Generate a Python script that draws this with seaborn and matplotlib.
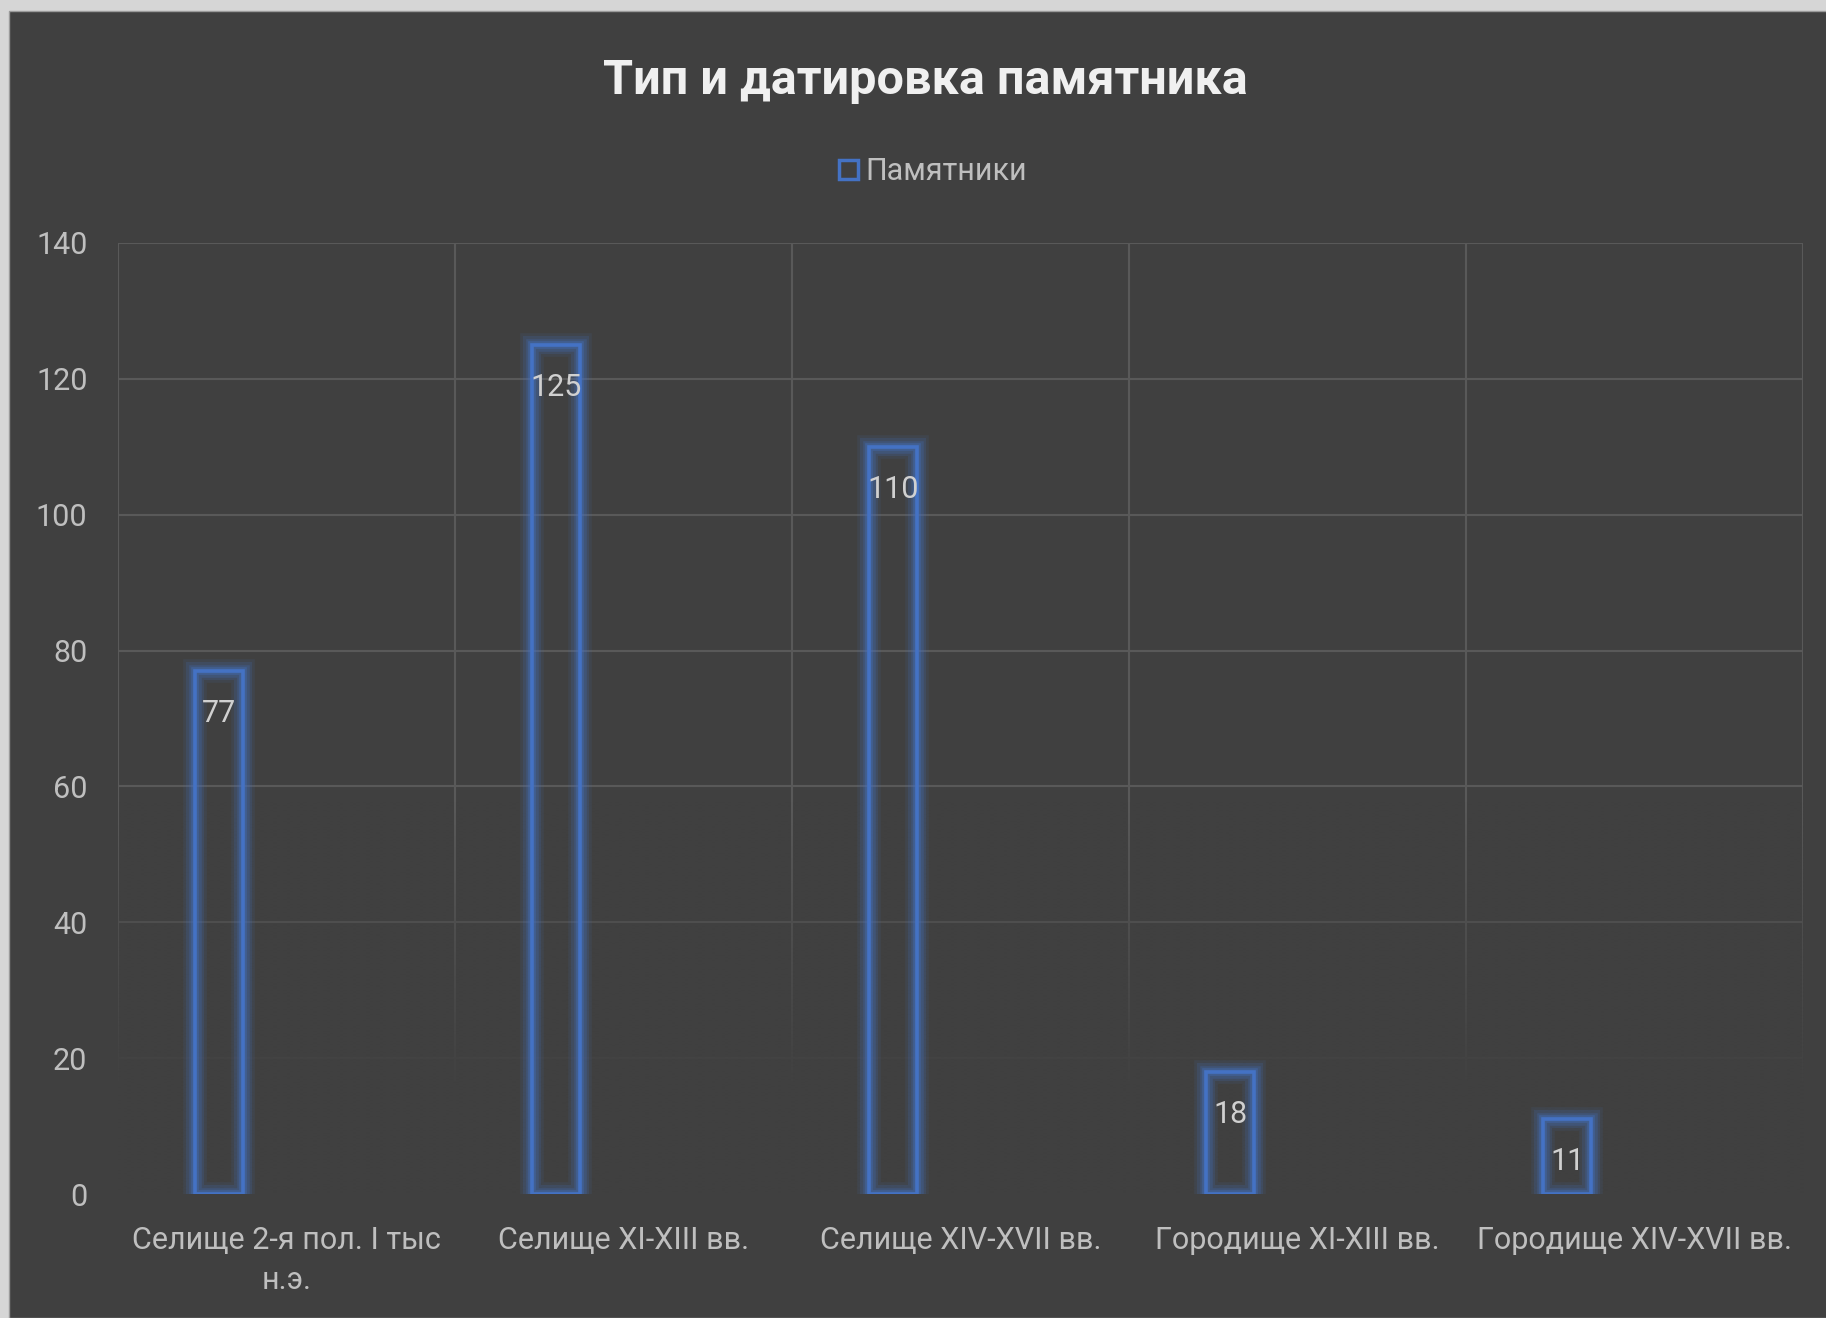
import numpy as np
import matplotlib
matplotlib.use("Agg")
import matplotlib.pyplot as plt
import matplotlib.patheffects as pe
from matplotlib.patches import Rectangle, Patch
import seaborn as sns

categories = ["Селище 2-я пол. I тыс\nн.э.", "Селище XI-XIII вв.", "Селище XIV-XVII вв.",
              "Городище XI-XIII вв.", "Городище XIV-XVII вв."]
values = [77, 125, 110, 18, 11]
series_name = "Памятники"
title = "Тип и датировка памятника"
yticks = [0, 20, 40, 60, 80, 100, 120, 140]

BG = "#404040"
BLUE = "#4472C4"
GRID = "#595959"
TXT = "#BFBFBF"
FS = 22

sns.set_theme(style="dark")
plt.rcParams["font.family"] = ["Roboto", "DejaVu Sans"]

fig = plt.figure(figsize=(18.26, 13.18), dpi=100)
fig.patch.set_facecolor("#D6D6D6")
fig.patches.append(Rectangle((9 / 1826, 0), 1, 1 - 11 / 1318, transform=fig.transFigure,
                             facecolor=BG, edgecolor="#9A9A9A", linewidth=1.0, zorder=-10))

ax = fig.add_axes([118 / 1826, 124 / 1318, (1803 - 118) / 1826, (1194 - 243) / 1318])
ax.set_facecolor(BG)
ax.set_zorder(1)

sns.barplot(x=categories, y=values, ax=ax, width=0.143, fill=False, color=BLUE,
            linewidth=2.6, zorder=3)

glow = [pe.Stroke(linewidth=17, foreground=BLUE, alpha=0.10),
        pe.Stroke(linewidth=13, foreground=BLUE, alpha=0.16),
        pe.Stroke(linewidth=9, foreground=BLUE, alpha=0.24),
        pe.Stroke(linewidth=5.5, foreground=BLUE, alpha=0.35),
        pe.Normal()]
centers = []
for p in ax.patches:
    p.set_x(p.get_x() - 0.2)
    p.set_edgecolor(BLUE)
    p.set_facecolor("none")
    p.set_linewidth(2.6)
    p.set_path_effects(glow)
    centers.append(p.get_x() + p.get_width() / 2)

for cx, v in zip(centers, values):
    ax.annotate(str(v), xy=(cx, v), xytext=(0, -30.5), textcoords="offset points",
                ha="center", va="center", color="#D0D0D0", fontsize=FS, zorder=5)

# grid
ax.set_xlim(-0.5, 4.5)
ax.set_ylim(0, 140)
ax.set_yticks(yticks)
for y in yticks[1:]:
    ax.axhline(y, color=GRID, lw=1.5, zorder=0.5)
for x in np.arange(-0.5, 5.0, 1.0):
    ax.axvline(x, color=GRID, lw=1.5, zorder=0.5)

# fade-out of the grid near the bottom
ys = np.linspace(0, 60, 200)
alpha = np.clip((58 - ys) / 43, 0, 1)
rgba = np.zeros((200, 2, 4))
rgba[..., :3] = matplotlib.colors.to_rgb(BG)
rgba[..., 3] = alpha[:, None]
ax.imshow(rgba, extent=(-0.52, 4.52, 0, 60), origin="lower", aspect="auto", zorder=1,
          interpolation="bilinear")
ax.set_xlim(-0.5, 4.5)
ax.set_ylim(0, 140)

for s in ax.spines.values():
    s.set_visible(False)
ax.grid(False)
ax.tick_params(axis="y", length=0, pad=22, labelsize=FS, labelcolor=TXT)
ax.tick_params(axis="x", length=0, pad=23, labelsize=FS, labelcolor=TXT)
ax.set_xlabel("")
ax.set_ylabel("")
for lbl in ax.get_xticklabels():
    lbl.set_linespacing(1.5)

fig.text(0.507, 1 - 81 / 1318, title, ha="center", va="center", fontsize=35,
         fontweight="bold", color="#F0F0F0")

handle = Patch(facecolor="none", edgecolor=BLUE, linewidth=2.5, label=series_name)
leg = fig.legend(handles=[handle], loc="center", bbox_to_anchor=(0.511, 1 - 172 / 1318),
                 frameon=False, fontsize=FS, handlelength=0.6, handleheight=0.6,
                 handletextpad=0.25, labelcolor=TXT)

fig.savefig("out.png", dpi=100, facecolor=fig.get_facecolor())
